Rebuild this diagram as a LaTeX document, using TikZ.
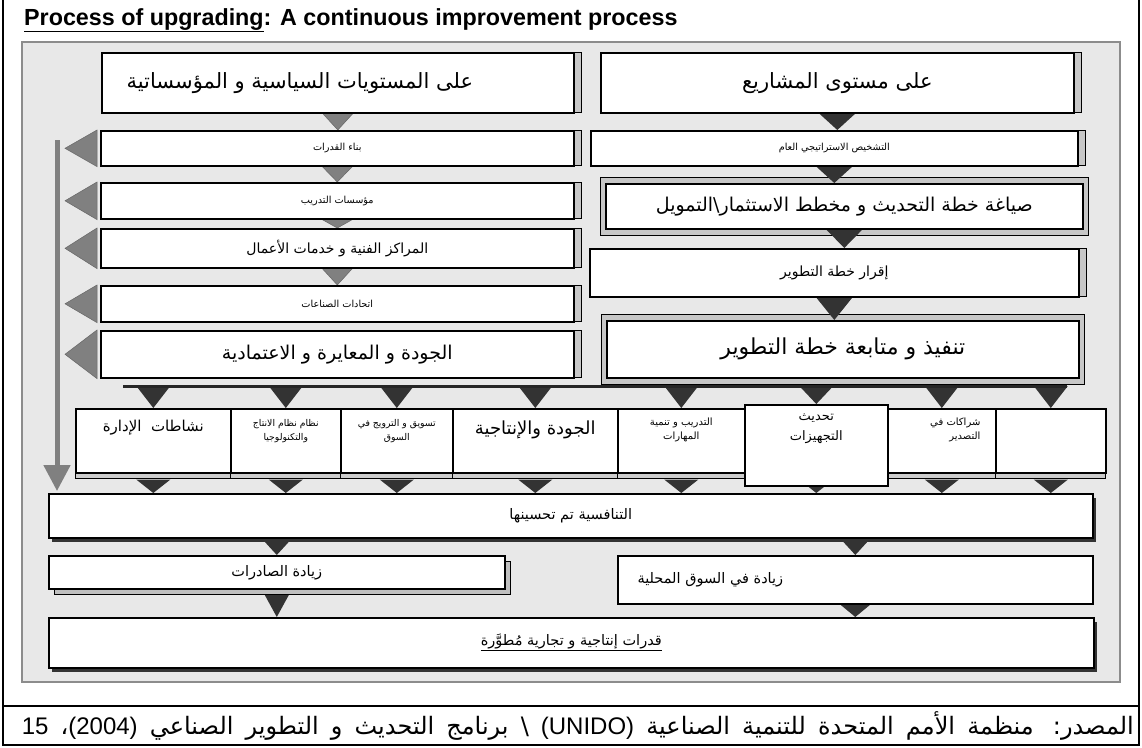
\documentclass[tikz,border=0pt]{standalone}
\usepackage{fontspec}
\setmainfont{Liberation Sans}
\newfontfamily\arabicfont[Script=Arabic]{DejaVu Sans}
\TeXXeTstate=1
\usepackage{tikz}
\usetikzlibrary{positioning,shadows,arrows.meta,backgrounds,fit,calc}

\newcommand{\ar}[1]{{\arabicfont\beginR #1\endR}}
\newcommand{\lat}[1]{\beginL{\normalfont #1}\endL}

\tikzset{
  box/.style = {draw=black, fill=white, line width=1.6pt, inner sep=2pt, anchor=north west},
  sidebar/.style = {general shadow={fill=black!22, draw=black, line width=1pt, shadow xshift=8pt, shadow yshift=0pt}},
  dropshd/.style = {general shadow={fill=black!80, shadow xshift=3pt, shadow yshift=-4pt}},
  greyshd/.style = {general shadow={fill=black!25, draw=black, line width=.8pt, shadow xshift=6pt, shadow yshift=-6pt}},
  rowshd/.style = {general shadow={fill=black!20, draw=black, line width=.8pt, shadow xshift=0pt, shadow yshift=-6pt}},
  outframe/.style = {draw=black, fill=black!22, line width=1pt, inner xsep=5pt, inner ysep=6pt},
  panel/.style = {fill=black!9, draw=black!45, line width=1.5pt},
  frameline/.style = {draw=black, line width=1.5pt},
  greytri/.style = {fill=black!50, draw=black!60, line width=.5pt},
  darktri/.style = {fill=black!80},
  backarrow/.style = {draw=black!50, line width=5pt, -{Triangle[width=26pt,length=26pt]}},
  darkbar/.style = {draw=black!85, line width=3pt},
  titletxt/.style = {font=\bfseries\fontsize{23.3}{27}\selectfont},
  hdrtxt/.style = {font=\fontsize{21}{25}\selectfont},
  bigtxt/.style = {font=\fontsize{19}{23}\selectfont},
  medtxt/.style = {font=\fontsize{14}{18}\selectfont},
  midtxt/.style = {font=\fontsize{14.5}{18}\selectfont},
  smalltxt/.style = {font=\fontsize{9.7}{12}\selectfont},
  rowtxt/.style = {font=\fontsize{10}{14}\selectfont, align=center, inner sep=0pt},
  tinytxt/.style = {font=\fontsize{9.3}{14}\selectfont, align=center, inner sep=0pt},
  srctxt/.style = {font=\fontsize{24}{28}\selectfont, inner sep=0pt},
}

\begin{document}
\begin{tikzpicture}[x=1pt,y=-1pt]
\useasboundingbox (0,0) rectangle (1142,747);

% outer frame and source line
\draw[frameline] (3,0) -- (3,745) -- (1139,745) -- (1139,0);
\draw[frameline] (3,706) -- (1139,706);
\node[titletxt, anchor=base west, inner sep=0pt] (title) at (24,25)
  {\underline{Process of upgrading}: A continuous improvement process};
\node[srctxt, anchor=east] (src) at (1134,726)
  {\hbox to 1112pt{\ar{المصدر: منظمة الأمم المتحدة للتنمية الصناعية \lat{(UNIDO)} \textbackslash{} برنامج التحديث و التطوير الصناعي \lat{(2004)}، \lat{15}}}};

\begin{scope}[on background layer]
  \draw[panel] (22,42) rectangle (1120,682);
\end{scope}

% two levels
\node[box, sidebar, hdrtxt, minimum width=472pt, minimum height=60pt] (hl) at (101,52)
  {\ar{على المستويات السياسية و المؤسساتية}\hbox to 76pt{}};
\node[box, sidebar, hdrtxt, minimum width=473pt, minimum height=60pt] (hr) at (600,52)
  {\ar{على مستوى المشاريع}};

% policy and institutions column
\node[box, sidebar, smalltxt, minimum width=473pt, minimum height=35pt] (c1) at (100,130) {\ar{بناء القدرات}};
\node[box, sidebar, smalltxt, minimum width=473pt, minimum height=36pt] (c2) at (100,182) {\ar{مؤسسات التدريب}};
\node[box, sidebar, midtxt, font=\fontsize{14}{18}\selectfont, minimum width=473pt, minimum height=39pt] (c3) at (100,228) {\ar{المراكز الفنية و خدمات الأعمال}};
\node[box, sidebar, smalltxt, minimum width=473pt, minimum height=36pt] (c4) at (100,285) {\ar{اتحادات الصناعات}};
\node[box, sidebar, bigtxt, minimum width=473pt, minimum height=47pt] (c5) at (100,330) {\ar{الجودة و المعايرة و الاعتمادية}};

% project column
\node[box, sidebar, smalltxt, minimum width=487pt, minimum height=35pt] (r1) at (590,130) {\ar{التشخيص الاستراتيجي العام}};
\node[box, bigtxt, minimum width=477pt, minimum height=45pt] (r2) at (605,183) {\ar{صياغة خطة التحديث و مخطط الاستثمار\textbackslash التمويل}};
\node[box, sidebar, medtxt, minimum width=489pt, minimum height=48pt] (r3) at (589,248) {\ar{إقرار خطة التطوير}};
\node[box, font=\fontsize{22}{26}\selectfont, minimum width=472pt, minimum height=57pt] (r4) at (606,320) {\ar{تنفيذ و متابعة خطة التطوير}};

% row of upgrading actions
\node[box, rowshd, minimum width=155pt, minimum height=64pt] (p1) at (75,408) {};
\node[box, rowshd, minimum width=110pt, minimum height=64pt] (p2) at (230,408) {};
\node[box, rowshd, minimum width=112pt, minimum height=64pt] (p3) at (340,408) {};
\node[box, rowshd, minimum width=165pt, minimum height=64pt] (p4) at (452,408) {};
\node[box, rowshd, minimum width=127pt, minimum height=64pt] (p5) at (617,408) {};
\node[box, rowshd, minimum width=108pt, minimum height=64pt] (p7) at (887,408) {};
\node[box, rowshd, minimum width=110pt, minimum height=64pt] (p8) at (995,408) {};
\node[box, minimum width=143pt, minimum height=81pt] (p6) at (744,404) {};

\node[rowtxt, font=\fontsize{15}{18}\selectfont, below=12pt of p1.north] (p1t) {\ar{نشاطات\ \ الإدارة}};
\node[tinytxt, below=11pt of p2.north] (p2t) {\ar{نظام نظام الانتاج}\\\ar{والتكنولوجيا}};
\node[tinytxt, below=11pt of p3.north] (p3t) {\ar{تسويق و الترويج في}\\\ar{السوق}};
\node[rowtxt, font=\fontsize{18}{20}\selectfont, below=13pt of p4.north] (p4t) {\ar{الجودة والإنتاجية}};
\node[rowtxt, below=10pt of p5.north] (p5t) {\ar{التدريب و تنمية}\\\ar{المهارات}};
\node[rowtxt, font=\fontsize{13}{20}\selectfont, below=10pt of p6.north] (p6t) {\ar{تحديث}\\\ar{التجهيزات}};
\node[rowtxt, align=right, anchor=north east] (p7t) at ([xshift=-16pt,yshift=-10pt]p7.north east) {\ar{شراكات في}\\\ar{التصدير}};

% results
\node[box, dropshd, midtxt, minimum width=1044pt, minimum height=44pt] (comp) at (48,493) {\ar{التنافسية تم تحسينها}};
\node[box, greyshd, midtxt, minimum width=456pt, minimum height=33pt] (ex) at (48,555) {\ar{زيادة الصادرات}};
\node[box, minimum width=475pt, minimum height=48pt] (loc) at (617,555) {};
\node[midtxt, anchor=west, right=17pt of loc.west] (loct) {\ar{زيادة في السوق المحلية}};
\node[box, dropshd, midtxt, minimum width=1045pt, minimum height=50pt] (cap) at (48,617)
  {\underline{\ar{قدرات إنتاجية و تجارية مُطوَّرة}}};

% feedback arrow and bar
\coordinate (vtop) at (57,140);
\coordinate (vbot) at (57,491);
\draw[backarrow] (vtop) -- (vbot);
\coordinate (barL) at (123,386);
\coordinate (barR) at (1067,386);
\draw[darkbar] (barL) -- (barR);
\coordinate (rowbot) at ([yshift=-6pt]p1.south);

\begin{scope}[on background layer]
  \node[outframe, fit=(r2)] (r2f) {};
  \node[outframe, fit=(r4)] (r4f) {};
  \foreach \a/\b in {hl/c1,c1/c2,c2/c3,c3/c4}
    \fill[greytri] ([xshift=-15pt]\a.south) -- ([xshift=15pt]\a.south) -- (\a.south |- \b.north) -- cycle;
  \foreach \a/\b in {hr/r1,r1/r2,r2/r3,r3/r4}
    \fill[darktri] ([xshift=-18pt]\a.south) -- ([xshift=18pt]\a.south) -- (\a.south |- \b.north) -- cycle;
  \foreach \p in {p1,p2,p3,p4,p5,p6,p7,p8} {
    \fill[darktri] ($(barL -| \p.north)+(-17,0)$) -- ($(barL -| \p.north)+(17,0)$) -- (\p.north) -- cycle;
    \fill[darktri] ($(rowbot -| \p.south)+(-17,0)$) -- ($(rowbot -| \p.south)+(17,0)$) -- (\p.south |- comp.north) -- cycle;
  }
  \foreach \a/\b in {comp/ex,comp/loc}
    \fill[darktri] ([xshift=-15pt]\b.north |- \a.south) -- ([xshift=15pt]\b.north |- \a.south) -- (\b.north) -- cycle;
  \foreach \a/\b in {ex/cap,loc/cap}
    \fill[darktri] ([xshift=-15pt]\a.south) -- ([xshift=15pt]\a.south) -- (\a.south |- \b.north) -- cycle;
\end{scope}

% side pointers to the feedback arrow
\foreach \c in {c1,c2,c3,c4,c5}
  \fill[greytri] ([xshift=-3pt]\c.north west) -- ([xshift=-3pt]\c.south west) -- ([xshift=-35pt]\c.west) -- cycle;
\end{tikzpicture}
\end{document}
